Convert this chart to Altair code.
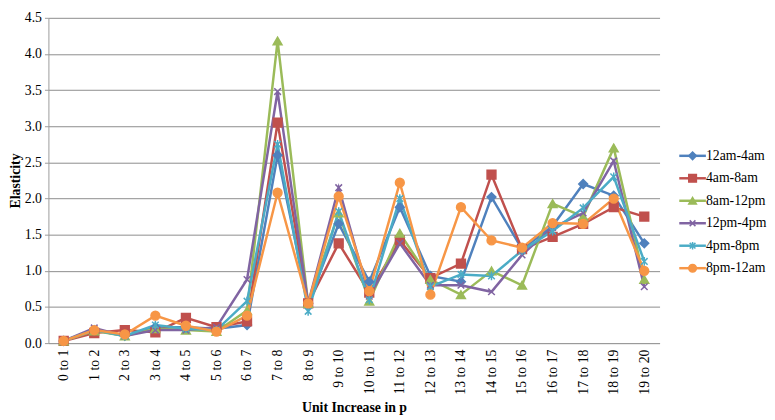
import altair as alt
import pandas as pd

categories = [f"{i} to {i+1}" for i in range(20)]
series_names = ["12am-4am", "4am-8am", "8am-12pm", "12pm-4pm", "4pm-8pm", "8pm-12am"]

s_12am_4am = [0.03, 0.18, 0.10, 0.22, 0.22, 0.20, 0.25, 2.60, 0.55, 1.65, 0.85, 1.88, 0.93, 0.85, 2.02, 1.30, 1.62, 2.20, 2.04, 1.38]
s_4am_8am = [0.03, 0.14, 0.18, 0.15, 0.35, 0.22, 0.30, 3.05, 0.55, 1.38, 0.70, 1.42, 0.90, 1.10, 2.33, 1.30, 1.47, 1.65, 1.88, 1.75]
s_8am_12pm = [0.03, 0.17, 0.10, 0.20, 0.18, 0.16, 0.45, 4.18, 0.55, 1.80, 0.58, 1.52, 0.88, 0.67, 1.00, 0.80, 1.93, 1.75, 2.70, 0.88]
s_12pm_4pm = [0.03, 0.21, 0.10, 0.18, 0.18, 0.22, 0.88, 3.48, 0.55, 2.15, 0.65, 1.38, 0.80, 0.80, 0.71, 1.22, 1.60, 1.80, 2.52, 0.78]
s_4pm_8pm = [0.03, 0.18, 0.10, 0.25, 0.20, 0.18, 0.58, 2.75, 0.44, 1.82, 0.60, 2.00, 0.78, 0.95, 0.93, 1.28, 1.55, 1.87, 2.30, 1.13]
s_8pm_12am = [0.03, 0.18, 0.12, 0.38, 0.24, 0.16, 0.38, 2.08, 0.55, 2.03, 0.72, 2.22, 0.67, 1.88, 1.42, 1.32, 1.66, 1.65, 2.00, 1.00]

colors = ["#4F81BD", "#C0504D", "#9BBB59", "#8064A2", "#4BACC6", "#F79646"]
shapes = [
    "diamond",
    "square",
    "triangle-up",
    "M-0.75,-0.75L0.75,0.75M-0.75,0.75L0.75,-0.75",
    "M-0.75,-0.75L0.75,0.75M-0.75,0.75L0.75,-0.75M0,-1L0,1",
    "circle",
]
y_ticks = [0, 0.5, 1, 1.5, 2, 2.5, 3, 3.5, 4, 4.5]

all_series = [s_12am_4am, s_4am_8am, s_8am_12pm, s_12pm_4pm, s_4pm_8pm, s_8pm_12am]
rows = []
for name, vals in zip(series_names, all_series):
    for c, v in zip(categories, vals):
        rows.append({"cat": c, "series": name, "value": v, "order": series_names.index(name)})
df = pd.DataFrame(rows)

FONT = "Liberation Serif"

color_scale = alt.Scale(domain=series_names, range=colors)
shape_scale = alt.Scale(domain=series_names, range=shapes)

x_enc = alt.X("cat:N", sort=categories, scale=alt.Scale(paddingInner=0, paddingOuter=0),
              axis=alt.Axis(title="Unit Increase in p", labelAngle=-90, labelFontSize=14,
                            titleFontSize=14, titleFontWeight="bold", labelPadding=6,
                            ticks=False, grid=False, domainColor="#9a9a9a", titlePadding=6,
                            labelFont=FONT, titleFont=FONT))
y_enc = alt.Y("value:Q", scale=alt.Scale(domain=[0, 4.5], nice=False),
              axis=alt.Axis(title="Elasticity", values=y_ticks, grid=True, labelOverlap=False,
                            format=".1f", labelFontSize=14, titleFontSize=14, titleFontWeight="bold",
                            gridColor="#8c8c8c", gridWidth=1, gridOpacity=1, domainColor="#9a9a9a",
                            tickColor="#9a9a9a", tickSize=4, titlePadding=2, labelPadding=3,
                            labelFont=FONT, titleFont=FONT))

lines = alt.Chart(df).mark_line(strokeWidth=2.5).encode(
    x=x_enc, y=y_enc,
    color=alt.Color("series:N", scale=color_scale, legend=None),
    detail="series:N",
    order="order:Q",
)
points = alt.Chart(df).mark_point(filled=True, size=80, strokeWidth=1.5, opacity=1).encode(
    x=x_enc,
    y=y_enc,
    color=alt.Color("series:N", scale=color_scale, legend=None),
    stroke=alt.Stroke("series:N", scale=color_scale, legend=None),
    shape=alt.Shape("series:N", scale=shape_scale, legend=None),
)
main = alt.layer(lines, points).properties(width=620, height=330)

leg_df = pd.DataFrame({"series": series_names, "idx": list(range(len(series_names)))})
leg_y = alt.Y("idx:Q", scale=alt.Scale(domain=[0, 5], range=[140, 254], nice=False, zero=False), axis=None)
leg_rule = alt.Chart(leg_df).mark_rule(strokeWidth=2.5).encode(
    x=alt.value(0), x2=alt.value(27), y=leg_y,
    color=alt.Color("series:N", scale=color_scale, legend=None))
leg_pt = alt.Chart(leg_df).mark_point(filled=True, size=60, strokeWidth=1.5, opacity=1).encode(
    x=alt.value(13.5), y=leg_y,
    color=alt.Color("series:N", scale=color_scale, legend=None),
    stroke=alt.Stroke("series:N", scale=color_scale, legend=None),
    shape=alt.Shape("series:N", scale=shape_scale, legend=None))
leg_txt = alt.Chart(leg_df).mark_text(align="left", baseline="middle", fontSize=14, font=FONT, dx=0).encode(
    x=alt.value(27), y=leg_y, text="series:N")
legend = alt.layer(leg_rule, leg_pt, leg_txt).properties(width=80, height=330)

chart = alt.hconcat(main, legend, spacing=18).properties(
    padding={"left": 0, "top": 0, "right": 0, "bottom": 0}
).configure(font=FONT).configure_view(stroke=None).configure_axis(
    labelColor="#000", titleColor="#000", labelFont=FONT, titleFont=FONT
).configure_text(font=FONT)

chart.save("out.html", embed_options={"renderer": "svg", "actions": False})
